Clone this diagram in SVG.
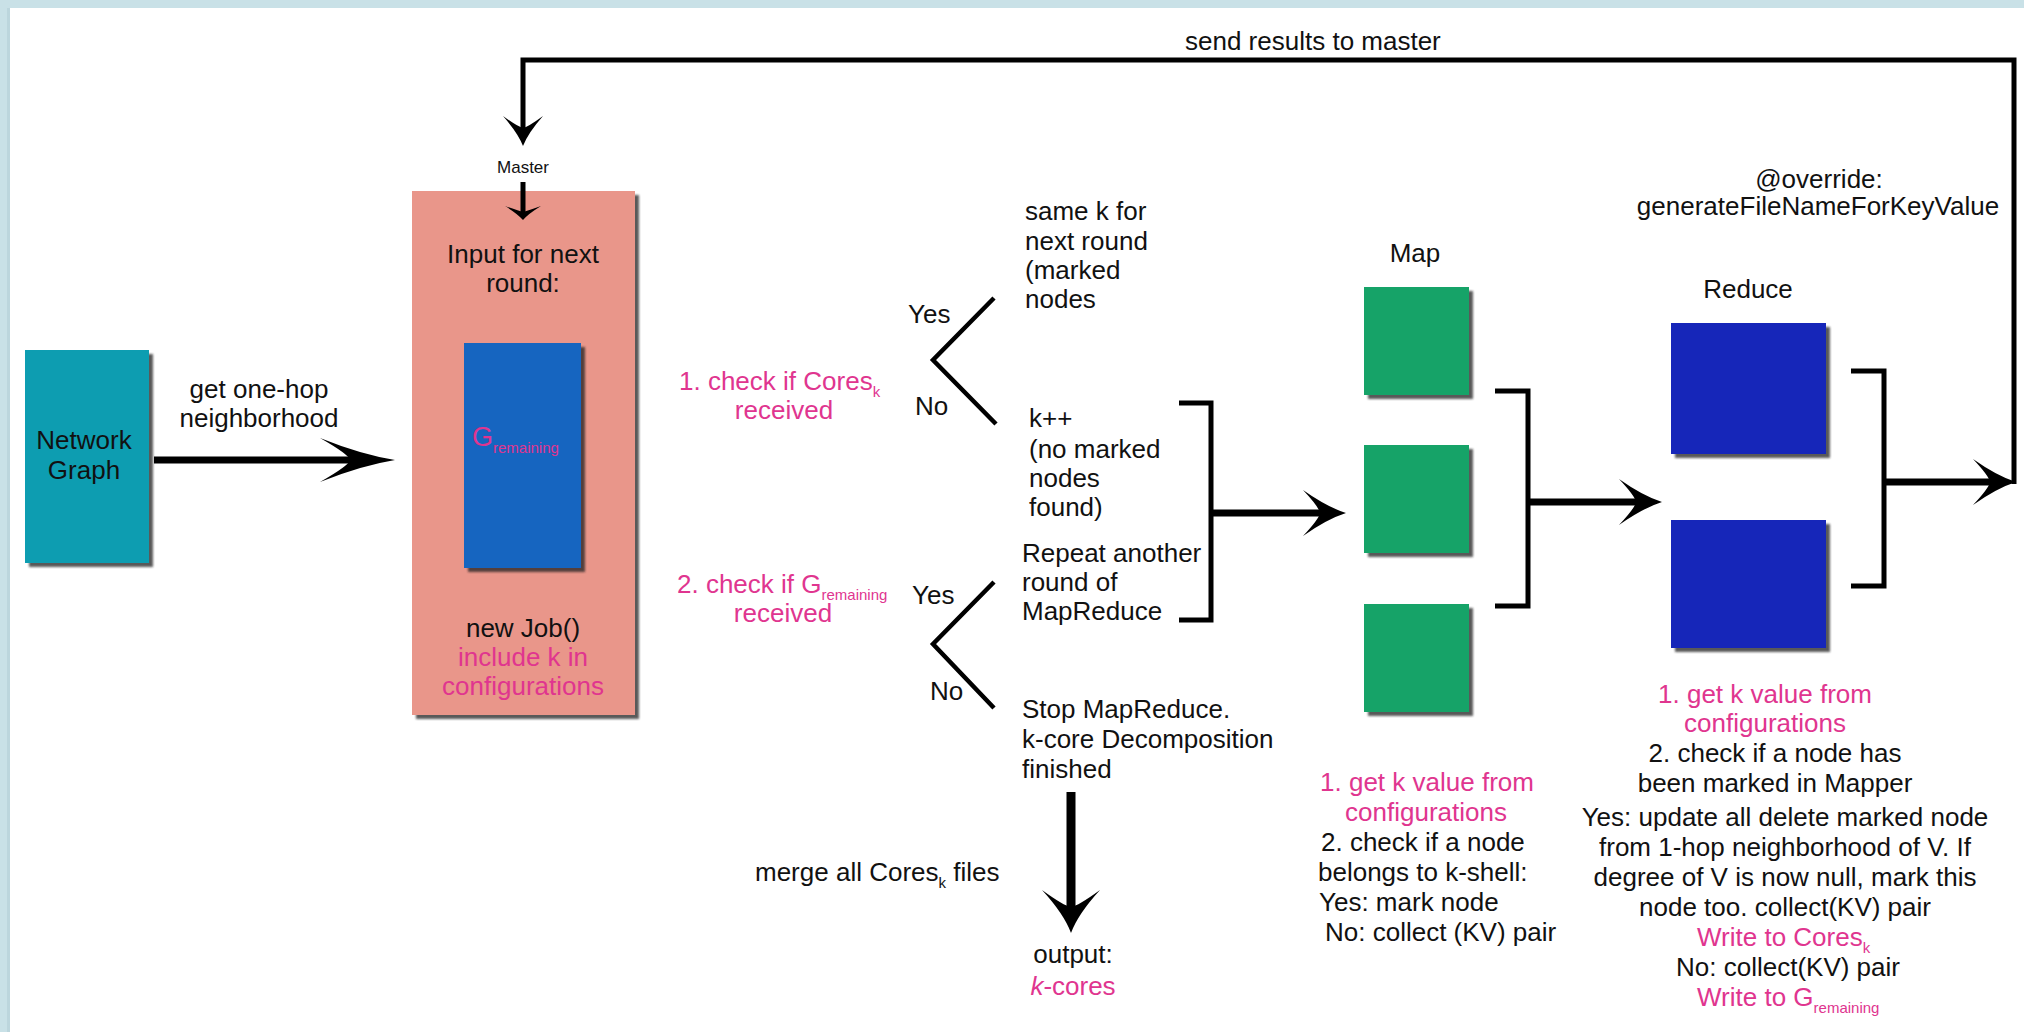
<svg xmlns="http://www.w3.org/2000/svg" width="2024" height="1032" viewBox="0 0 2024 1032">
  <style>
    .t { font-family: "Liberation Sans", Arial, Helvetica, sans-serif; font-size: 26px; fill: #111; }
    .c { text-anchor: middle; }
    .p { fill: #e0358f; }
    .sub { font-size: 15px; }
    .small { font-size: 17px; }
    .conn { fill: none; stroke: #000; stroke-width: 5; stroke-linejoin: miter; }
    .thick { stroke-width: 7; }
    .fork { fill: none; stroke: #000; stroke-width: 4.5; }
  </style>
  <defs>
    <filter id="shadow" x="-10%" y="-10%" width="130%" height="130%">
      <feDropShadow dx="4" dy="4" stdDeviation="1.3" flood-color="#222" flood-opacity="0.75"/>
    </filter>
    <marker id="headL" viewBox="-76 -23 77 46" markerWidth="77" markerHeight="46" refX="-45" refY="0" orient="auto" markerUnits="userSpaceOnUse">
      <path d="M0,0 Q-34,-5.5 -75,-22 Q-46,-5.5 -45,0 Q-46,5.5 -75,22 Q-34,5.5 0,0 Z" fill="#000"/>
    </marker>
    <marker id="headM" viewBox="-44 -24 45 48" markerWidth="45" markerHeight="48" refX="-26" refY="0" orient="auto" markerUnits="userSpaceOnUse">
      <path d="M0,0 Q-19,-6 -43,-23 Q-27,-6 -26,0 Q-27,6 -43,23 Q-19,6 0,0 Z" fill="#000"/>
    </marker>
    <marker id="headD" viewBox="-44 -30 45 60" markerWidth="45" markerHeight="60" refX="-26" refY="0" orient="auto" markerUnits="userSpaceOnUse">
      <path d="M0,0 Q-19,-7 -43,-29 Q-27,-7 -26,0 Q-27,7 -43,29 Q-19,7 0,0 Z" fill="#000"/>
    </marker>
    <marker id="headT" viewBox="-31 -21 32 42" markerWidth="32" markerHeight="42" refX="-18" refY="0" orient="auto" markerUnits="userSpaceOnUse">
      <path d="M0,0 Q-13,-5 -30,-20 Q-19,-5 -18,0 Q-19,5 -30,20 Q-13,5 0,0 Z" fill="#000"/>
    </marker>
    <marker id="headS" viewBox="-15 -19 16 38" markerWidth="16" markerHeight="38" refX="-8" refY="0" orient="auto" markerUnits="userSpaceOnUse">
      <path d="M0,0 Q-6,-5 -14,-18 Q-9,-4 -8,0 Q-9,4 -14,18 Q-6,5 0,0 Z" fill="#000"/>
    </marker>
  </defs>

  <!-- page background and frame strips -->
  <rect x="0" y="0" width="2024" height="1032" fill="#ffffff"/>
  <rect x="0" y="0" width="2024" height="8" fill="#c9e1e7"/>
  <rect x="0" y="0" width="10" height="1032" fill="#c9e1e7"/>
  <rect x="7" y="8" width="3" height="1024" fill="#bcd6dd"/>

  <!-- input graph -->
  <g id="network-graph">
    <rect x="25" y="350" width="124" height="213" fill="#0f9db1" filter="url(#shadow)"/>
    <text class="t c" x="84" y="449">Network</text>
    <text class="t c" x="84" y="479">Graph</text>
    <text class="t c" x="259" y="398">get one-hop</text>
    <text class="t c" x="259" y="427">neighborhood</text>
  </g>

  <!-- master job -->
  <g id="master">
    <text class="t c small" x="523" y="173">Master</text>
    <rect x="412" y="191" width="223" height="524" fill="#e9968a" filter="url(#shadow)"/>
    <text class="t c" x="523" y="263">Input for next</text>
    <text class="t c" x="523" y="292">round:</text>
    <rect x="464" y="343" width="117" height="225" fill="#1565c0" filter="url(#shadow)"/>
    <text class="t p" x="472" y="446" style="font-size:27px">G<tspan class="sub" dy="7">remaining</tspan></text>
    <text class="t c" x="523" y="637">new Job()</text>
    <text class="t c p" x="523" y="666">include k in</text>
    <text class="t c p" x="523" y="695">configurations</text>
  </g>

  <!-- first check -->
  <g id="check-cores">
    <text class="t p" x="679" y="390">1. check if Cores<tspan class="sub" dy="7">k</tspan></text>
    <text class="t c p" x="784" y="419">received</text>
    <text class="t" x="908" y="323">Yes</text>
    <text class="t" x="915" y="415">No</text>
    <text class="t" x="1025" y="220">same k for</text>
    <text class="t" x="1025" y="250">next round</text>
    <text class="t" x="1025" y="279">(marked</text>
    <text class="t" x="1025" y="308">nodes</text>
    <text class="t" x="1029" y="427">k++</text>
    <text class="t" x="1029" y="458">(no marked</text>
    <text class="t" x="1029" y="487">nodes</text>
    <text class="t" x="1029" y="516">found)</text>
  </g>

  <!-- second check -->
  <g id="check-remaining">
    <text class="t p" x="677" y="593">2. check if G<tspan class="sub" dy="7">remaining</tspan></text>
    <text class="t c p" x="783" y="622">received</text>
    <text class="t" x="912" y="604">Yes</text>
    <text class="t" x="930" y="700">No</text>
    <text class="t" x="1022" y="562">Repeat another</text>
    <text class="t" x="1022" y="591">round of</text>
    <text class="t" x="1022" y="620">MapReduce</text>
    <text class="t" x="1022" y="718">Stop MapReduce.</text>
    <text class="t" x="1022" y="748">k-core Decomposition</text>
    <text class="t" x="1022" y="778">finished</text>
  </g>

  <!-- result -->
  <g id="output">
    <text class="t c" x="1073" y="963">output:</text>
    <text class="t c p" x="1073" y="995"><tspan font-style="italic">k</tspan>-cores</text>
  </g>

  <!-- map tasks -->
  <g id="map">
    <text class="t c" x="1415" y="262">Map</text>
    <rect x="1364" y="287" width="105" height="108" fill="#19a367" filter="url(#shadow)"/>
    <rect x="1364" y="445" width="105" height="108" fill="#19a367" filter="url(#shadow)"/>
    <rect x="1364" y="604" width="105" height="108" fill="#19a367" filter="url(#shadow)"/>
    <text class="t c p" x="1427" y="791">1. get k value from</text>
    <text class="t c p" x="1426" y="821">configurations</text>
    <text class="t" x="1321" y="851">2. check if a node</text>
    <text class="t" x="1318" y="881">belongs to k-shell:</text>
    <text class="t" x="1319" y="911">Yes: mark node</text>
    <text class="t" x="1325" y="941">No: collect (KV) pair</text>
  </g>

  <!-- reduce tasks -->
  <g id="reduce">
    <text class="t c" x="1748" y="298">Reduce</text>
    <rect x="1671" y="323" width="155" height="131" fill="#1528b9" filter="url(#shadow)"/>
    <rect x="1671" y="520" width="155" height="128" fill="#1528b9" filter="url(#shadow)"/>
    <text class="t c p" x="1765" y="703">1. get k value from</text>
    <text class="t c p" x="1765" y="732">configurations</text>
    <text class="t c" x="1775" y="762">2. check if a node has</text>
    <text class="t c" x="1775" y="792">been marked in Mapper</text>
    <text class="t c" x="1785" y="826">Yes: update all delete marked node</text>
    <text class="t c" x="1785" y="856">from 1-hop neighborhood of V. If</text>
    <text class="t c" x="1785" y="886">degree of V is now null, mark this</text>
    <text class="t c" x="1785" y="916">node too. collect(KV) pair</text>
    <text class="t p" x="1697" y="946">Write to Cores<tspan class="sub" dy="7">k</tspan></text>
    <text class="t c" x="1788" y="976">No: collect(KV) pair</text>
    <text class="t p" x="1697" y="1006">Write to G<tspan class="sub" dy="7">remaining</tspan></text>
  </g>

  <!-- connectors, drawn on top of the boxes -->
  <g id="connectors">
    <path class="conn thick" d="M154,460 H350" marker-end="url(#headL)"/>
    <path class="conn" d="M523,182 V212" marker-end="url(#headS)"/>
    <path class="conn" d="M2014,484 V60 H523 V128" marker-end="url(#headT)"/>
    <text class="t" x="1185" y="50">send results to master</text>

    <!-- decision forks -->
    <path class="fork" d="M994,298 L933,360 L996,424"/>
    <path class="fork" d="M994,582 L933,644 L994,708"/>

    <!-- join into Map -->
    <path class="conn" d="M1179,403 H1211 V620 H1179"/>
    <path class="conn thick" d="M1211,513 H1320" marker-end="url(#headM)"/>

    <!-- Map to Reduce -->
    <path class="conn" d="M1495,391 H1528 V606 H1495"/>
    <path class="conn thick" d="M1528,502 H1636" marker-end="url(#headM)"/>

    <!-- Reduce output -->
    <path class="conn" d="M1851,371 H1884 V586 H1851"/>
    <path class="conn thick" d="M1884,482 H1990" marker-end="url(#headM)"/>
    <text class="t c" x="1819" y="188">@override:</text>
    <text class="t c" x="1818" y="215">generateFileNameForKeyValue</text>

    <!-- termination -->
    <path class="conn" style="stroke-width:9" d="M1071,792 V907" marker-end="url(#headD)"/>
    <text class="t" x="755" y="881">merge all Cores<tspan class="sub" dy="7">k</tspan><tspan dy="-7"> files</tspan></text>
  </g>
</svg>
